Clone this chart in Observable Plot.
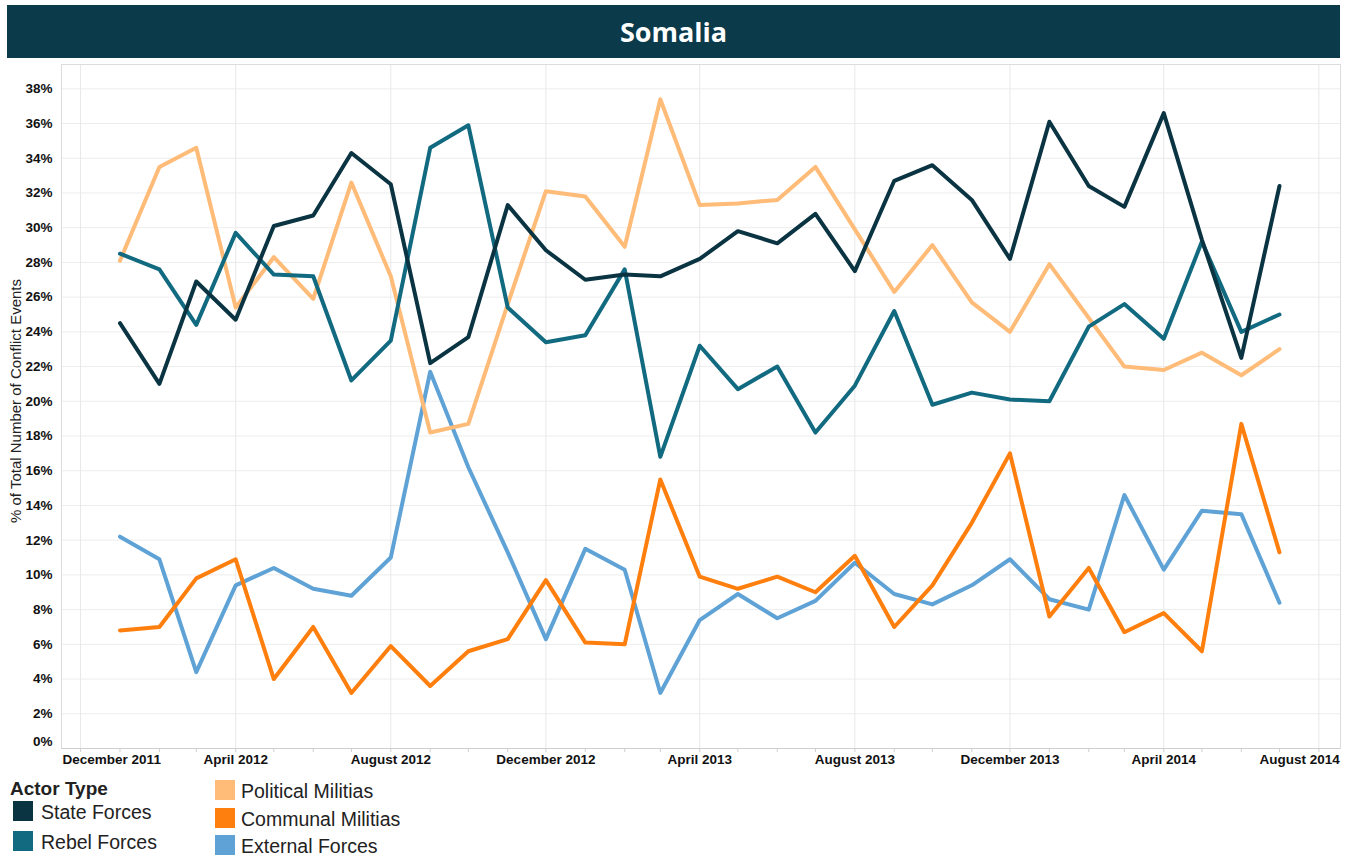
<!DOCTYPE html>
<html><head><meta charset="utf-8">
<script src="https://cdn.jsdelivr.net/npm/d3@7"></script>
<script src="https://cdn.jsdelivr.net/npm/@observablehq/plot@0.6"></script>
<style>
body{margin:0;background:#fff;font-family:"Liberation Sans",Arial,sans-serif;}
#wrap{position:relative;width:1349px;height:856px;overflow:hidden;}
#title{position:absolute;left:7px;top:5px;width:1333px;height:53px;background:#0b3a4a;color:#fff;font:bold 27px "Open Sans",sans-serif;display:flex;align-items:center;justify-content:center;}
#chart{position:absolute;left:0;top:60px;}
#ylab{position:absolute;left:15px;top:401px;transform:translate(-50%,-50%) rotate(-90deg);font-size:15px;white-space:nowrap;color:#222;}
.lg{position:absolute;font-size:19.5px;color:#222;white-space:nowrap;line-height:1;}
.sw{position:absolute;width:20px;height:20px;}
#lgt{position:absolute;left:10px;top:779px;font-weight:bold;font-size:19px;color:#222;line-height:1;}
</style>
</head><body>
<div id="wrap">
  <div id="title">Somalia</div>
  <div id="chart"></div>
  <div id="ylab">% of Total Number of Conflict Events</div>
  <div id="lgt">Actor Type</div>
  <div id="legend"></div>
</div>
<script>
// ---- data ----
const months = [
  "2012-01-01","2012-02-01","2012-03-01","2012-04-01","2012-05-01","2012-06-01",
  "2012-07-01","2012-08-01","2012-09-01","2012-10-01","2012-11-01","2012-12-01",
  "2013-01-01","2013-02-01","2013-03-01","2013-04-01","2013-05-01","2013-06-01",
  "2013-07-01","2013-08-01","2013-09-01","2013-10-01","2013-11-01","2013-12-01",
  "2014-01-01","2014-02-01","2014-03-01","2014-04-01","2014-05-01","2014-06-01","2014-07-01"
];
const seriesNames = ["State Forces","Rebel Forces","Political Militias","Communal Militias","External Forces"];
const seriesColors = ["#0b3443","#116a80","#ffbb78","#ff7f0e","#5fa2d6"];
const stateForces = [24.5,21.0,26.9,24.7,30.1,30.7,34.3,32.5,22.2,23.7,31.3,28.7,
  27.0,27.3,27.2,28.2,29.8,29.1,30.8,27.5,32.7,33.6,31.6,28.2,
  36.1,32.4,31.2,36.6,29.3,22.5,32.4];
const rebelForces = [28.5,27.6,24.4,29.7,27.3,27.2,21.2,23.5,34.6,35.9,25.4,23.4,
  23.8,27.6,16.8,23.2,20.7,22.0,18.2,20.9,25.2,19.8,20.5,20.1,
  20.0,24.3,25.6,23.6,29.2,24.0,25.0];
const politicalMilitias = [28.1,33.5,34.6,25.4,28.3,25.9,32.6,27.2,18.2,18.7,25.6,32.1,
  31.8,28.9,37.4,31.3,31.4,31.6,33.5,29.9,26.3,29.0,25.7,24.0,
  27.9,24.8,22.0,21.8,22.8,21.5,23.0];
const communalMilitias = [6.8,7.0,9.8,10.9,4.0,7.0,3.2,5.9,3.6,5.6,6.3,9.7,
  6.1,6.0,15.5,9.9,9.2,9.9,9.0,11.1,7.0,9.4,13.0,17.0,
  7.6,10.4,6.7,7.8,5.6,18.7,11.3];
const externalForces = [12.2,10.9,4.4,9.4,10.4,9.2,8.8,11.0,21.7,16.2,11.3,6.3,
  11.5,10.3,3.2,7.4,8.9,7.5,8.5,10.7,8.9,8.3,9.4,10.9,
  8.6,8.0,14.6,10.3,13.7,13.5,8.4];
const majorTicks = ["2011-12-01","2012-04-01","2012-08-01","2012-12-01","2013-04-01",
  "2013-08-01","2013-12-01","2014-04-01","2014-08-01"];
const yTicks = [0,2,4,6,8,10,12,14,16,18,20,22,24,26,28,30,32,34,36,38];

// ---- build ----
const seriesValues = [stateForces, rebelForces, politicalMilitias, communalMilitias, externalForces];
const parse = s => new Date(s + "T00:00:00Z");
const rows = [];
seriesNames.forEach((name, k) => {
  seriesValues[k].forEach((v, i) => rows.push({date: parse(months[i]), value: v, series: name}));
});
const major = majorTicks.map(parse);
const minor = d3.utcMonth.range(major[0], d3.utcDay.offset(major[major.length - 1], 1));
const fmt = d3.utcFormat("%B %Y");
const drawOrder = ["External Forces","Communal Militias","Political Militias","Rebel Forces","State Forces"];
const first = major[0], last = major[major.length - 1];
const labelPad = 6;

const chart = Plot.plot({
  width: 1349,
  height: 712,
  marginLeft: 61,
  marginRight: 9,
  marginTop: 4,
  marginBottom: 24,
  style: {fontFamily: "'Liberation Sans', Arial, sans-serif", fontSize: "13.5px", fontWeight: "bold", color: "#111", background: "transparent"},
  x: {type: "utc", domain: [parse("2011-11-16"), parse("2014-08-18")]},
  y: {domain: [0, 39.4]},
  color: {domain: seriesNames, range: seriesColors},
  marks: [
    Plot.gridY(yTicks.slice(1), {stroke: "#ededed", strokeOpacity: 1}),
    Plot.gridX(major, {stroke: "#e8e8e8", strokeOpacity: 1}),
    Plot.frame({stroke: "#dcdcdc"}),
    Plot.ruleY([0], {stroke: "#cfcfcf"}),
    Plot.axisX(minor, {tickSize: 4, tickFormat: () => "", stroke: "#cfcfcf"}),
    Plot.axisX(major.slice(1, -1), {tickSize: 0, tickPadding: labelPad, tickFormat: fmt, fill: "#111"}),
    Plot.text([first], {x: d => d, frameAnchor: "bottom", lineAnchor: "top", dy: labelPad, dx: -18, textAnchor: "start", text: d => fmt(d), fill: "#111"}),
    Plot.text([last], {x: d => d, frameAnchor: "bottom", lineAnchor: "top", dy: labelPad, dx: 21, textAnchor: "end", text: d => fmt(d), fill: "#111"}),
    Plot.axisY(yTicks.slice(1), {tickSize: 0, tickPadding: 9, tickFormat: d => d + "%", label: null, fill: "#111"}),
    Plot.text([0], {y: d => d, frameAnchor: "left", dx: -9, dy: -7, textAnchor: "end", text: d => d + "%", fill: "#111"}),
    ...drawOrder.map(name => Plot.line(rows.filter(r => r.series === name), {
      x: "date", y: "value", stroke: "series", strokeWidth: 4, strokeLinejoin: "round", strokeLinecap: "round"
    }))
  ]
});
document.getElementById("chart").appendChild(chart);

// ---- legend ----
const legend = document.getElementById("legend");
const legendPos = [
  {sx: 13, sy: 801, tx: 41},
  {sx: 13, sy: 831, tx: 41},
  {sx: 215, sy: 780, tx: 241},
  {sx: 215, sy: 808, tx: 241},
  {sx: 215, sy: 835, tx: 241}
];
seriesNames.forEach((name, k) => {
  const p = legendPos[k];
  const sw = document.createElement("div");
  sw.className = "sw";
  sw.style.left = p.sx + "px"; sw.style.top = p.sy + "px";
  sw.style.background = seriesColors[k];
  legend.appendChild(sw);
  const t = document.createElement("div");
  t.className = "lg";
  t.textContent = name;
  t.style.left = p.tx + "px"; t.style.top = (p.sy + 2) + "px";
  legend.appendChild(t);
});
</script>
</body></html>
